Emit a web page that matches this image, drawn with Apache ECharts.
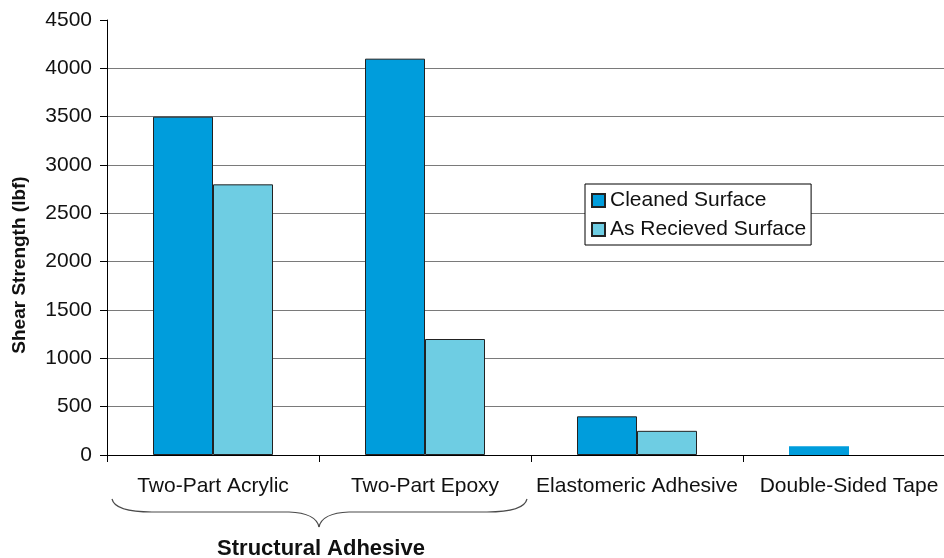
<!DOCTYPE html>
<html>
<head>
<meta charset="utf-8">
<script src="https://cdn.jsdelivr.net/npm/echarts@6/dist/echarts.min.js"></script>
<style>
html,body{margin:0;padding:0;background:#fff;overflow:hidden;}
#main{width:955px;height:558px;}
</style>
</head>
<body>
<div id="main"></div>
<script>
const categories = ['Two-Part Acrylic', 'Two-Part Epoxy', 'Elastomeric Adhesive', 'Double-Sided Tape'];
const cleanedSurface = [3500, 4100, 400, 90];
const asReceivedSurface = [2800, 1200, 250, null];
const seriesNames = ['Cleaned Surface', 'As Recieved Surface'];
const yTicks = { min: 0, max: 4500, interval: 500 };
const groupLabel = 'Structural Adhesive';
const groupCategories = ['Two-Part Acrylic', 'Two-Part Epoxy'];

const FONT = 'Liberation Sans, Arial, sans-serif';
const chart = echarts.init(document.getElementById('main'), null, { renderer: 'canvas' });

const cleanedData = cleanedSurface.map(v => (v !== null && v < 150)
  ? { value: v, itemStyle: { borderWidth: 0 } } : v);

chart.setOption({
  animation: false,
  backgroundColor: '#ffffff',
  textStyle: { fontFamily: FONT },
  grid: { left: 107, top: 20, right: 0, height: 435, containLabel: false },
  legend: {
    orient: 'vertical',
    left: 585,
    top: 184,
    padding: [6, 5, 5, 6],
    itemGap: 8,
    itemWidth: 13,
    itemHeight: 13,
    backgroundColor: '#ffffff',
    borderColor: '#000000',
    borderWidth: 1,
    borderRadius: 0,
    textStyle: { fontFamily: FONT, fontSize: 21, color: '#111' },
    data: seriesNames.map(n => ({ name: n, icon: 'rect' }))
  },
  xAxis: {
    type: 'category',
    data: categories,
    boundaryGap: true,
    axisLine: { lineStyle: { color: '#000', width: 1 } },
    axisTick: { show: true, length: 7, lineStyle: { color: '#000' } },
    axisLabel: { fontFamily: FONT, fontSize: 21, color: '#111', margin: 21, interval: 0 },
    splitLine: { show: false }
  },
  yAxis: {
    type: 'value',
    min: yTicks.min,
    max: yTicks.max,
    interval: yTicks.interval,
    axisLine: { show: true, lineStyle: { color: '#000', width: 1 } },
    axisTick: { show: true, length: 7, lineStyle: { color: '#000' } },
    axisLabel: { fontFamily: FONT, fontSize: 21, color: '#111', margin: 15, formatter: v => String(v) },
    splitLine: { show: true, showMaxLine: false, lineStyle: { color: '#7a7a7a', width: 1 } }
  },
  series: [
    {
      name: seriesNames[0],
      type: 'bar',
      data: cleanedData,
      barWidth: 60,
      barGap: '0%',
      itemStyle: { color: '#009ddc', borderColor: '#222', borderWidth: 1 }
    },
    {
      name: seriesNames[1],
      type: 'bar',
      data: asReceivedSurface,
      barWidth: 60,
      barGap: '0%',
      itemStyle: { color: '#6ecde3', borderColor: '#222', borderWidth: 1 }
    }
  ]
});

// Annotations: brace under the structural adhesive group and y-axis title
const c0 = chart.convertToPixel({ xAxisIndex: 0 }, groupCategories[0]);
const c1 = chart.convertToPixel({ xAxisIndex: 0 }, groupCategories[1]);
const bw = c1 - c0;
const L = c0 - bw / 2 + 5;
const R = c1 + bw / 2 - 4;
const M = (c0 + c1) / 2;
const y0 = 499, y1 = 512, y2 = 527;
const braceStyle = { stroke: '#4a4a4a', lineWidth: 1.2, fill: null };

chart.setOption({
  graphic: [
    { type: 'bezierCurve', silent: true, style: braceStyle,
      shape: { x1: L, y1: y0, cpx1: L + 3, cpy1: y1, x2: L + 40, y2: y1 } },
    { type: 'line', silent: true, style: braceStyle,
      shape: { x1: L + 40, y1: y1, x2: M - 30, y2: y1 } },
    { type: 'bezierCurve', silent: true, style: braceStyle,
      shape: { x1: M - 30, y1: y1, cpx1: M - 3, cpy1: y1 + 1, x2: M, y2: y2 } },
    { type: 'bezierCurve', silent: true, style: braceStyle,
      shape: { x1: M, y1: y2, cpx1: M + 3, cpy1: y1 + 1, x2: M + 30, y2: y1 } },
    { type: 'line', silent: true, style: braceStyle,
      shape: { x1: M + 30, y1: y1, x2: R - 40, y2: y1 } },
    { type: 'bezierCurve', silent: true, style: braceStyle,
      shape: { x1: R - 40, y1: y1, cpx1: R - 3, cpy1: y1, x2: R, y2: y0 } },
    {
      type: 'text',
      x: M + 2,
      y: 549,
      style: {
        text: groupLabel,
        font: 'bold 22px ' + FONT,
        fill: '#111',
        textAlign: 'center',
        textVerticalAlign: 'middle'
      },
      silent: true
    },
    {
      type: 'text',
      x: 20,
      y: 265,
      rotation: Math.PI / 2,
      style: {
        text: 'Shear Strength (lbf)',
        font: 'bold 19px ' + FONT,
        fill: '#111',
        textAlign: 'center',
        textVerticalAlign: 'middle'
      },
      silent: true
    }
  ]
});
</script>
</body>
</html>
